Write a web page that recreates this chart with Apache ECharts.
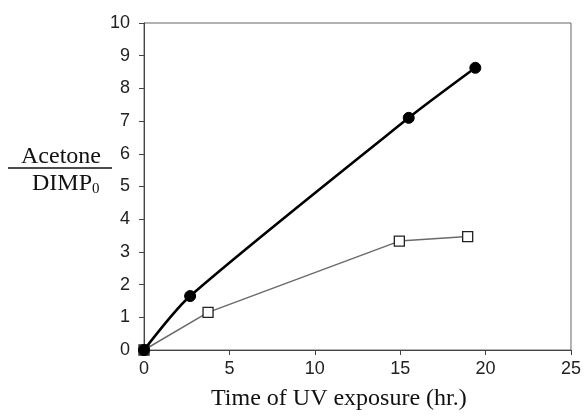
<!DOCTYPE html>
<html>
<head>
<meta charset="utf-8">
<script src="https://cdn.jsdelivr.net/npm/echarts@6/dist/echarts.min.js"></script>
<style>
  html, body { margin: 0; padding: 0; background: #fff; }
  #line_chart { width: 584px; height: 420px; }
</style>
</head>
<body>
<div id="line_chart"></div>
<script>
// 数据
var xTicks = [0, 5, 10, 15, 20, 25];
var yTicks = [0, 1, 2, 3, 4, 5, 6, 7, 8, 9, 10];
// 实心点 (黑色曲线)
var solidTime = [0, 2.7, 15.5, 19.4];
var solidValue = [0, 1.65, 7.1, 8.63];
// 空心方块 (灰色折线)
var openTime = [0, 3.75, 14.95, 18.95];
var openValue = [0, 1.15, 3.33, 3.47];

function pairs(xs, ys) {
  return xs.map(function (x, i) { return [x, ys[i]]; });
}

var chart = echarts.init(document.getElementById('line_chart'));

var option = {
  animation: false,
  backgroundColor: '#fff',
  grid: {
    left: 144,
    right: 11,
    top: 23,
    bottom: 70,
    show: true,
    borderColor: '#666',
    borderWidth: 1
  },
  xAxis: {
    type: 'value',
    min: xTicks[0],
    max: xTicks[xTicks.length - 1],
    interval: 5,
    axisLine: { show: true, lineStyle: { color: '#444', width: 1 } },
    axisTick: { show: true, inside: false, length: 5, lineStyle: { color: '#444' } },
    splitLine: { show: false },
    axisLabel: {
      color: '#222',
      fontFamily: 'Liberation Sans',
      fontSize: 18,
      margin: 10
    }
  },
  yAxis: {
    type: 'value',
    min: yTicks[0],
    max: yTicks[yTicks.length - 1],
    interval: 1,
    axisLine: { show: true, lineStyle: { color: '#444', width: 1 } },
    axisTick: { show: true, inside: false, length: 5, lineStyle: { color: '#444' } },
    splitLine: { show: false },
    axisLabel: {
      color: '#222',
      fontFamily: 'Liberation Sans',
      fontSize: 18,
      margin: 14
    }
  },
  graphic: [
    {
      type: 'text',
      left: 211,
      top: 387,
      style: {
        text: 'Time of UV exposure (hr.)',
        fill: '#111',
        font: '24px "Liberation Serif"'
      }
    },
    {
      type: 'text',
      x: 61,
      y: 145,
      style: {
        text: 'Acetone',
        fill: '#111',
        font: '24px "Liberation Serif"',
        textAlign: 'center'
      }
    },
    {
      type: 'line',
      shape: { x1: 8, y1: 168, x2: 112, y2: 168 },
      style: { stroke: '#111', lineWidth: 1.5 }
    },
    {
      type: 'text',
      x: 32,
      y: 172,
      style: {
        text: '{m|DIMP}{s|0}',
        rich: {
          m: { fill: '#111', fontFamily: 'Liberation Serif', fontSize: 24, verticalAlign: 'top' },
          s: { fill: '#111', fontFamily: 'Liberation Serif', fontSize: 15, padding: [10, 0, 0, 0] }
        }
      }
    }
  ],
  series: [
    {
      name: 'solid',
      type: 'line',
      smooth: 0.25,
      data: pairs(solidTime, solidValue),
      symbol: 'circle',
      symbolSize: 11,
      showAllSymbol: true,
      lineStyle: { color: '#000', width: 2.6 },
      itemStyle: { color: '#000', borderColor: '#000', borderWidth: 1 },
      z: 3
    },
    {
      name: 'open',
      type: 'line',
      data: pairs(openTime, openValue),
      symbol: 'rect',
      symbolSize: 10,
      showAllSymbol: true,
      lineStyle: { color: '#6a6a6a', width: 1.5 },
      itemStyle: { color: '#fff', borderColor: '#222', borderWidth: 1.3 },
      z: 2
    }
  ]
};

chart.setOption(option);
</script>
</body>
</html>
